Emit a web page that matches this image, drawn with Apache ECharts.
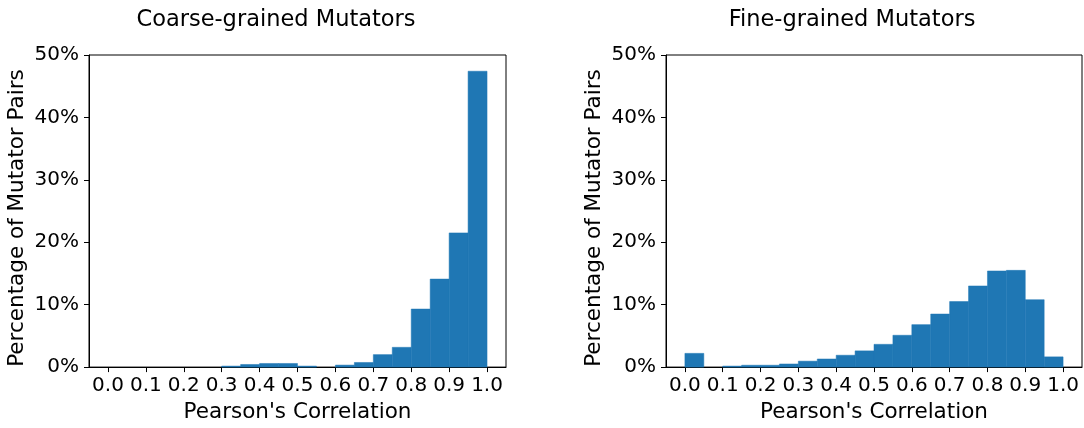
<!DOCTYPE html>
<html>
<head>
<meta charset="utf-8">
<script src="https://cdn.jsdelivr.net/npm/echarts@6/dist/echarts.min.js"></script>
<style>
  html, body { margin: 0; padding: 0; background: #fff; }
</style>
</head>
<body>
<div id="main" style="width: 1084px;height:428px;"></div>

<script type="text/javascript">

    // 直方图分箱边界（宽 0.05）
    var binEdges = [0.00, 0.05, 0.10, 0.15, 0.20, 0.25, 0.30, 0.35, 0.40, 0.45, 0.50,
                    0.55, 0.60, 0.65, 0.70, 0.75, 0.80, 0.85, 0.90, 0.95, 1.00];

    // 每个分箱的百分比
    var coarseValues = [0, 0, 0, 0, 0, 0, 0.16, 0.42, 0.58, 0.58,
                        0.16, 0, 0.32, 0.74, 2.0, 3.17, 9.3, 14.1, 21.5, 47.4];
    var fineValues = [2.2, 0, 0.16, 0.3, 0.3, 0.5, 0.95, 1.3, 1.9, 2.6,
                      3.65, 5.1, 6.8, 8.5, 10.5, 13.0, 15.4, 15.5, 10.8, 1.64];

    var xTicks = [0.0, 0.1, 0.2, 0.3, 0.4, 0.5, 0.6, 0.7, 0.8, 0.9, 1.0];
    var titles = ['Coarse-grained Mutators', 'Fine-grained Mutators'];

    var barColor = '#1f77b4';
    var font = 'DejaVu Sans';

    function toRows(values) {
        var rows = [];
        for (var i = 0; i < values.length; i++) {
            rows.push([binEdges[i], binEdges[i + 1], values[i]]);
        }
        return rows;
    }

    // 每个分箱画一个矩形，坐标全部经由坐标轴换算
    function renderBin(params, api) {
        var h = api.value(2);
        if (!h) return null;
        var p0 = api.coord([api.value(0), h]);
        var p1 = api.coord([api.value(1), 0]);
        return {
            type: 'rect',
            shape: { x: p0[0], y: p0[1], width: p1[0] - p0[0], height: p1[1] - p0[1] },
            style: { fill: barColor, stroke: barColor, lineWidth: 0.5 }
        };
    }

    function xAxisOf(idx) {
        return {
            gridIndex: idx,
            type: 'value',
            min: -0.05,
            max: 1.05,
            name: "Pearson's Correlation",
            nameLocation: 'middle',
            nameGap: 33,
            nameTextStyle: { fontFamily: font, fontSize: 21.5, color: '#000' },
            axisLine: { onZero: false, lineStyle: { color: '#000', width: 1 } },
            axisTick: { customValues: xTicks, length: 5, lineStyle: { color: '#000' } },
            axisLabel: {
                customValues: xTicks, margin: 9,
                fontFamily: font, fontSize: 20, color: '#000',
                formatter: function (v) { return v.toFixed(1); }
            },
            splitLine: { show: false }
        };
    }

    function yAxisOf(idx) {
        return {
            gridIndex: idx,
            type: 'value',
            min: 0,
            max: 50,
            interval: 10,
            name: 'Percentage of Mutator Pairs',
            nameLocation: 'middle',
            nameGap: 61,
            nameTextStyle: { fontFamily: font, fontSize: 21.5, color: '#000', padding: [0, 14, 0, 0] },
            axisLine: { show: true, onZero: false, lineStyle: { color: '#000', width: 1 } },
            axisTick: { show: true, length: 5, lineStyle: { color: '#000' } },
            axisLabel: {
                margin: 10, fontFamily: font, fontSize: 20, color: '#000',
                formatter: '{value}%'
            },
            splitLine: { show: false }
        };
    }

    var myChart = echarts.init(document.getElementById('main'));

    var option = {
        animation: false,
        title: [
            { text: titles[0], left: 276, top: 9, padding: 0, textAlign: 'center',
              textStyle: { fontFamily: font, fontSize: 22.5, fontWeight: 'normal', color: '#000' } },
            { text: titles[1], left: 852, top: 9, padding: 0, textAlign: 'center',
              textStyle: { fontFamily: font, fontSize: 22.5, fontWeight: 'normal', color: '#000' } }
        ],
        grid: [
            { left: 89, right: 578, top: 55, bottom: 58, show: true, borderColor: '#000', borderWidth: 1 },
            { left: 666, right: 2, top: 55, bottom: 58, show: true, borderColor: '#000', borderWidth: 1 }
        ],
        xAxis: [xAxisOf(0), xAxisOf(1)],
        yAxis: [yAxisOf(0), yAxisOf(1)],
        series: [
            { type: 'custom', xAxisIndex: 0, yAxisIndex: 0, renderItem: renderBin,
              encode: { x: [0, 1], y: 2 }, data: toRows(coarseValues) },
            { type: 'custom', xAxisIndex: 1, yAxisIndex: 1, renderItem: renderBin,
              encode: { x: [0, 1], y: 2 }, data: toRows(fineValues) }
        ]
    };

    myChart.setOption(option);

</script>
</body>
</html>
